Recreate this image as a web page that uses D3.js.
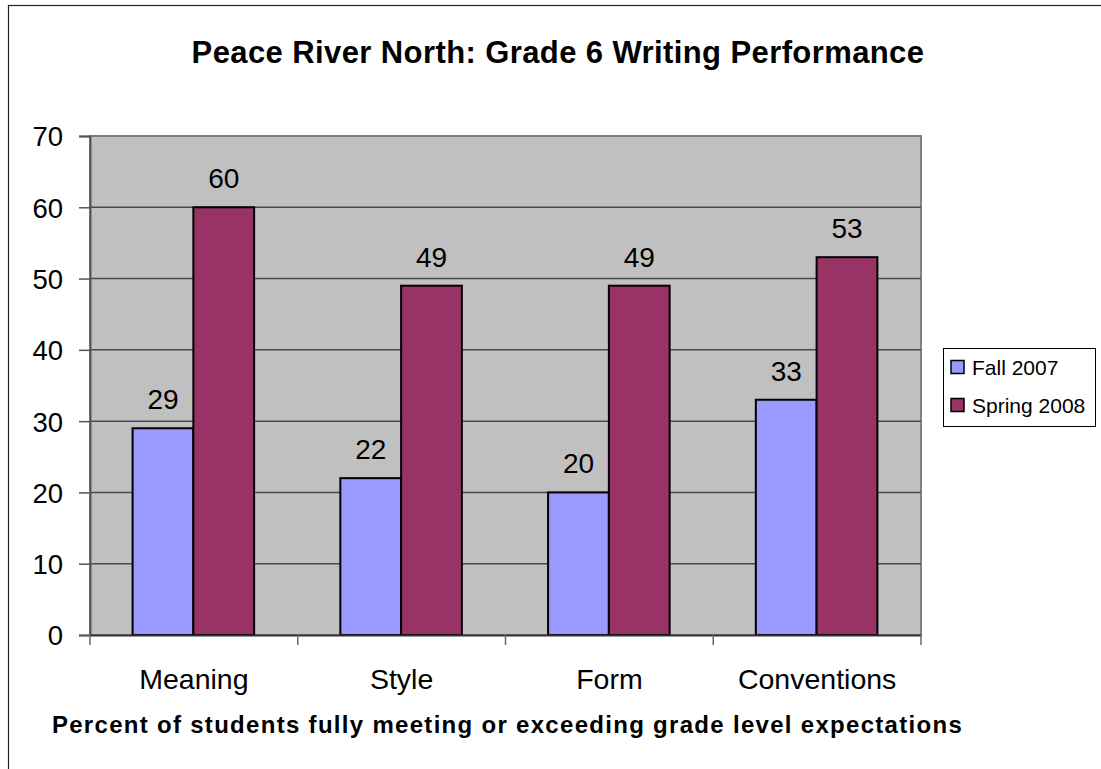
<!DOCTYPE html>
<html><head><meta charset="utf-8">
<script src="https://cdn.jsdelivr.net/npm/d3@7"></script>
<style>
body{margin:0;background:#fff}
svg{display:block}
text{font-family:"Liberation Sans",Arial,Helvetica,sans-serif;fill:#000}
</style>
</head><body>
<svg id="c" width="1101" height="769"></svg>
<script>
const categories = ["Meaning", "Style", "Form", "Conventions"];
const seriesNames = ["Fall 2007", "Spring 2008"];
const fall2007 = [29, 22, 20, 33];
const spring2008 = [60, 49, 49, 53];
const yTickValues = [0, 10, 20, 30, 40, 50, 60, 70];
const seriesColors = ["#9999FF", "#993366"];
const titleText = "Peace River North: Grade 6 Writing Performance";
const xTitleText = "Percent of students fully meeting or exceeding grade level expectations";

const seriesValues = [fall2007, spring2008];
const svg = d3.select("#c");

// outer frame
svg.append("rect").attr("x", 8.5).attr("y", 5.5).attr("width", 1200).attr("height", 1000)
  .attr("fill", "none").attr("stroke", "#222").attr("stroke-width", 1.2);

const L = 90, R = 921, T = 136, B = 635;
const y = d3.scaleLinear().domain([0, 70]).range([B, T]);
const x = d3.scaleBand().domain(categories).range([L, R]).padding(0);
const bw = x.bandwidth();
const xs = d3.scaleBand().domain(seriesNames).range([bw * 0.205, bw * 0.79]).padding(0);

// plot area
svg.append("rect").attr("x", L).attr("y", T).attr("width", R - L).attr("height", B - T)
  .attr("fill", "#C0C0C0").attr("stroke", "#808080").attr("stroke-width", 2);

// gridlines
svg.append("g").selectAll("line").data(yTickValues.filter(v => v > 0 && v < 70)).join("line")
  .attr("x1", L).attr("x2", R).attr("y1", d => y(d)).attr("y2", d => y(d))
  .attr("stroke", "#4a4a4a").attr("stroke-width", 1.5);

// bars
const groups = svg.append("g").selectAll("g").data(categories).join("g")
  .attr("transform", d => `translate(${x(d)},0)`);
groups.selectAll("rect").data((c, i) => seriesNames.map((s, j) => ({s, v: seriesValues[j][i], j}))).join("rect")
  .attr("x", d => xs(d.s)).attr("width", xs.bandwidth())
  .attr("y", d => y(d.v)).attr("height", d => y(0) - y(d.v))
  .attr("fill", d => seriesColors[d.j]).attr("stroke", "#000").attr("stroke-width", 2);
groups.selectAll("text").data((c, i) => seriesNames.map((s, j) => ({s, v: seriesValues[j][i], j}))).join("text")
  .attr("x", d => xs(d.s) + xs.bandwidth() / 2).attr("y", d => y(d.v) - 19)
  .attr("text-anchor", "middle").style("font-size", "28px").text(d => d.v);

// y axis
const yAxis = svg.append("g").attr("transform", `translate(${L},0)`)
  .call(d3.axisLeft(y).tickValues(yTickValues).tickSize(11).tickPadding(16));
yAxis.selectAll("text").style("font-size", "27.5px").attr("dy", "0.36em");
yAxis.select(".domain").attr("stroke", "#555").attr("stroke-width", 2);
yAxis.selectAll(".tick line").attr("stroke", "#555").attr("stroke-width", 1.5);

// x axis
const xAxis = svg.append("g").attr("transform", `translate(0,${B})`)
  .call(d3.axisBottom(x).tickSize(0).tickPadding(34));
xAxis.selectAll("text").style("font-size", "28.5px");
xAxis.select(".domain").attr("stroke", "#333").attr("stroke-width", 2);
const bounds = categories.map(c => x(c)).concat([R]);
xAxis.selectAll(".bnd").data(bounds).join("line").attr("class", "bnd")
  .attr("x1", d => d).attr("x2", d => d).attr("y1", 0).attr("y2", 10)
  .attr("stroke", "#666").attr("stroke-width", 1.5);

// title
svg.append("text").attr("x", 558).attr("y", 63).attr("text-anchor", "middle")
  .style("font-size", "31px").style("font-weight", "bold").style("letter-spacing", "0.4px").text(titleText);
svg.append("text").attr("x", (L + R) / 2 + 2).attr("y", 733).attr("text-anchor", "middle")
  .style("font-size", "24px").style("font-weight", "bold").style("letter-spacing", "1.3px").text(xTitleText);

// legend
const lg = svg.append("g");
lg.append("rect").attr("x", 943.5).attr("y", 348.5).attr("width", 152).attr("height", 78)
  .attr("fill", "#fff").attr("stroke", "#000").attr("stroke-width", 1);
const items = lg.selectAll("g").data(seriesNames).join("g")
  .attr("transform", (d, i) => `translate(951,${367 + i * 38})`);
items.append("rect").attr("x", 0).attr("y", -6.5).attr("width", 13).attr("height", 13)
  .attr("fill", (d, i) => seriesColors[i]).attr("stroke", "#000").attr("stroke-width", 1.5);
items.append("text").attr("x", 21).attr("y", 7.5).style("font-size", "21px").text(d => d);
</script>
</body></html>
